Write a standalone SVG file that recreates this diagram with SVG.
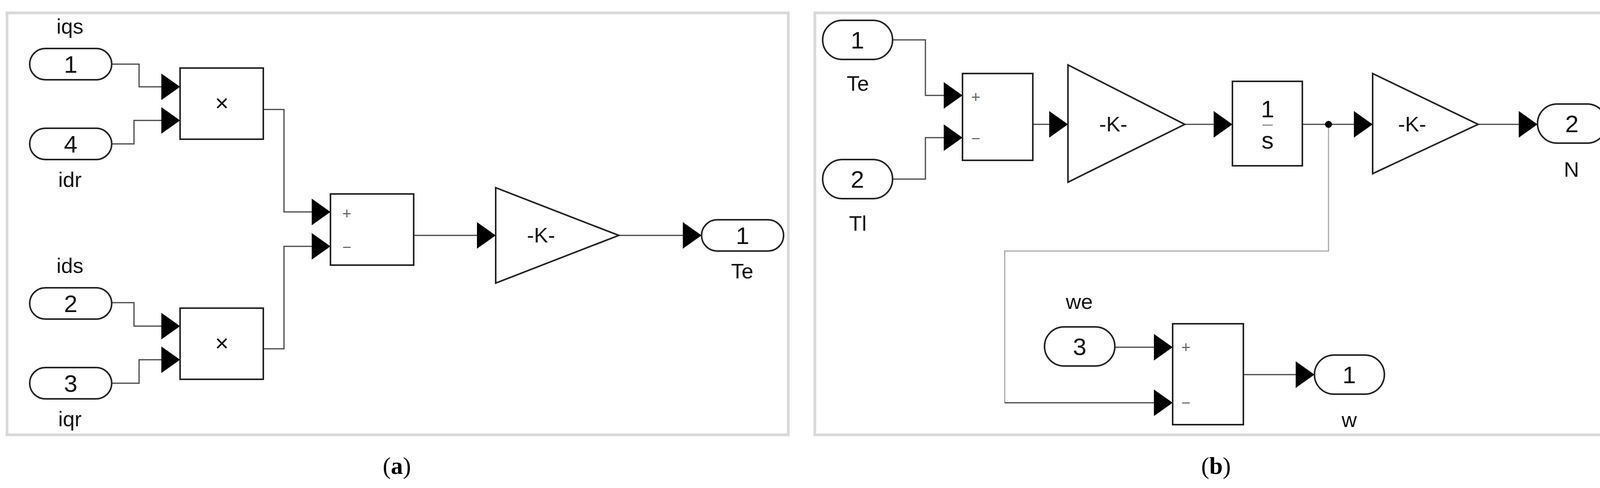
<svg xmlns="http://www.w3.org/2000/svg" width="4166" height="1248" viewBox="0 0 4166 1248">
<style>
.panel{fill:#fff;stroke:#d9d9d9;stroke-width:7}
.blk{fill:#fff;stroke:#222;stroke-width:4}
.port{fill:#fff;stroke:#222;stroke-width:4}
.w{fill:none;stroke:#444;stroke-width:3}
.g{fill:none;stroke:#aaa;stroke-width:3}
.t{font-family:"Liberation Sans",Arial,sans-serif;fill:#111;text-anchor:middle}
.num{font-size:62px}
.lbl{font-size:54px}
.sg{font-size:40px;fill:#666}
.cap{font-family:"Liberation Serif","Times New Roman",serif;font-size:62px;text-anchor:middle;fill:#000}
</style>
<defs>
<polygon id="ah" points="-48,-34 0,0 -48,34" fill="#000"/>
</defs>
<rect width="4166" height="1248" fill="#fff"/>
<rect class="panel" x="18" y="33" width="2000" height="1079"/>
<rect class="panel" x="2086" y="33" width="2062" height="1079"/>

<g id="connectors">
<polyline class="w" points="286,164 356,164 356,222 415,222"/>
<polyline class="w" points="286,368 343,368 343,308 415,308"/>
<polyline class="w" points="286,774 343,774 343,834 415,834"/>
<polyline class="w" points="286,980 356,980 356,920 415,920"/>
<polyline class="w" points="674,280 727,280 727,542 800,542"/>
<polyline class="w" points="674,892 727,892 727,630 800,630"/>
<polyline class="w" points="1059,602 1225,602"/>
<polyline class="w" points="1584,602 1752,602"/>
<use href="#ah" x="461" y="222"/><use href="#ah" x="461" y="308"/>
<use href="#ah" x="461" y="834"/><use href="#ah" x="461" y="920"/>
<use href="#ah" x="846" y="542"/><use href="#ah" x="846" y="630"/>
<use href="#ah" x="1269" y="602"/><use href="#ah" x="1796" y="602"/>

<polyline class="w" points="2285,102 2369,102 2369,244 2420,244"/>
<polyline class="w" points="2285,458 2369,458 2369,352 2420,352"/>
<polyline class="w" points="2644,318 2690,318"/>
<polyline class="w" points="3033,318 3110,318"/>
<polyline class="w" points="3334,318 3470,318"/>
<polyline class="w" points="3784,318 3890,318"/>
<polyline class="g" points="3401,318 3401,642 2572,642 2572,1030"/>
<polyline class="w" points="2572,1030 2958,1030"/>
<polyline class="w" points="2854,888 2958,888"/>
<polyline class="w" points="3183,958 3320,958"/>
<circle cx="3401" cy="318" r="9" fill="#000"/>
<use href="#ah" x="2464" y="244"/><use href="#ah" x="2464" y="352"/>
<use href="#ah" x="2734" y="318"/><use href="#ah" x="3155" y="318"/>
<use href="#ah" x="3514" y="318"/><use href="#ah" x="3936" y="318"/>
<use href="#ah" x="3002" y="888"/><use href="#ah" x="3002" y="1030"/>
<use href="#ah" x="3365" y="958"/>
</g>

<g id="a_in1"><rect class="port" x="76" y="124" width="210" height="80" rx="40"/><text class="t num" x="181" y="186">1</text><text class="t lbl" x="179" y="86">iqs</text></g>
<g id="a_in4"><rect class="port" x="76" y="328" width="210" height="80" rx="40"/><text class="t num" x="181" y="390">4</text><text class="t lbl" x="179" y="478">idr</text></g>
<g id="a_in2"><rect class="port" x="76" y="736" width="210" height="80" rx="40"/><text class="t num" x="181" y="798">2</text><text class="t lbl" x="179" y="698">ids</text></g>
<g id="a_in3"><rect class="port" x="76" y="940" width="210" height="80" rx="40"/><text class="t num" x="181" y="1002">3</text><text class="t lbl" x="179" y="1090">iqr</text></g>
<g id="a_prod1"><rect class="blk" x="461" y="174" width="213" height="182"/><text class="t" x="568" y="284" font-size="60" fill="#777">×</text></g>
<g id="a_prod2"><rect class="blk" x="461" y="788" width="213" height="182"/><text class="t" x="568" y="898" font-size="60" fill="#777">×</text></g>
<g id="a_sum"><rect class="blk" x="846" y="496" width="213" height="182"/><text class="t sg" x="888" y="560">+</text><text class="t sg" x="888" y="646">−</text></g>
<g id="a_gain"><polygon class="blk" points="1269,480 1584,602 1269,724"/><text class="t lbl" x="1385" y="620">-K-</text></g>
<g id="a_out1"><rect class="port" x="1796" y="562" width="210" height="80" rx="40"/><text class="t num" x="1901" y="624">1</text><text class="t lbl" x="1900" y="712">Te</text></g>
<text class="cap" x="1016" y="1212">(<tspan font-weight="bold">a</tspan>)</text>

<g id="b_in1"><rect class="port" x="2106" y="52" width="179" height="100" rx="50"/><text class="t num" x="2195" y="124">1</text><text class="t lbl" x="2196" y="232">Te</text></g>
<g id="b_in2"><rect class="port" x="2106" y="408" width="179" height="100" rx="50"/><text class="t num" x="2195" y="480">2</text><text class="t lbl" x="2196" y="590">Tl</text></g>
<g id="b_sum1"><rect class="blk" x="2464" y="188" width="180" height="222"/><text class="t sg" x="2498" y="262">+</text><text class="t sg" x="2498" y="368">−</text></g>
<g id="b_gain1"><polygon class="blk" points="2734,166 3033,318 2734,466"/><text class="t lbl" x="2850" y="336">-K-</text></g>
<g id="b_int"><rect class="blk" x="3155" y="208" width="179" height="216"/><text class="t num" x="3245" y="300">1</text><line x1="3232" y1="320" x2="3258" y2="320" stroke="#888" stroke-width="3"/><text class="t num" x="3245" y="380">s</text></g>
<g id="b_gain2"><polygon class="blk" points="3514,188 3784,318 3514,444"/><text class="t lbl" x="3615" y="336">-K-</text></g>
<g id="b_out2"><rect class="port" x="3936" y="266" width="177" height="100" rx="50"/><text class="t num" x="4024" y="338">2</text><text class="t lbl" x="4023" y="452">N</text></g>
<g id="b_in3"><rect class="port" x="2674" y="836" width="180" height="100" rx="50"/><text class="t num" x="2764" y="908">3</text><text class="t lbl" x="2763" y="790">we</text></g>
<g id="b_sum2"><rect class="blk" x="3002" y="828" width="181" height="258"/><text class="t sg" x="3036" y="902">+</text><text class="t sg" x="3036" y="1044">−</text></g>
<g id="b_out1"><rect class="port" x="3365" y="908" width="179" height="100" rx="50"/><text class="t num" x="3454" y="980">1</text><text class="t lbl" x="3454" y="1092">w</text></g>
<text class="cap" x="3113" y="1212">(<tspan font-weight="bold">b</tspan>)</text>
</svg>
